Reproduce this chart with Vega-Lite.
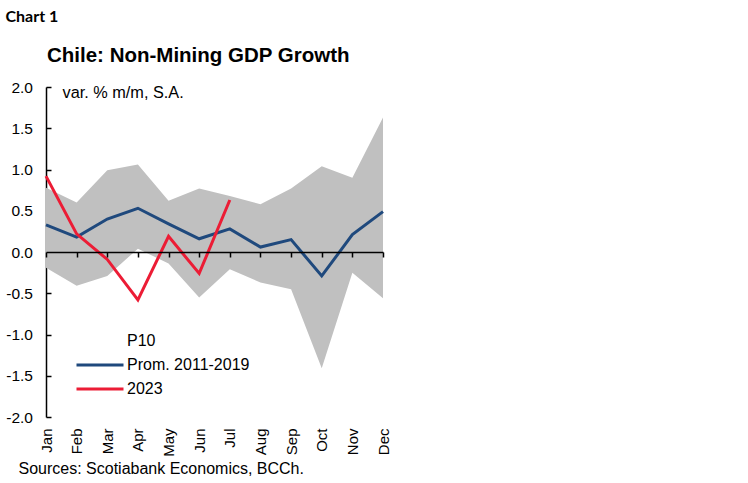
{
  "$schema": "https://vega.github.io/schema/vega-lite/v6.json",
  "width": 337,
  "height": 330,
  "autosize": "none",
  "padding": {"left": 46, "top": 87, "right": 365, "bottom": 66},
  "background": "white",
  "config": {"view": {"stroke": null}, "font": "Liberation Sans"},
  "title": {
    "text": "Chile: Non-Mining GDP Growth",
    "anchor": "start",
    "frame": "group",
    "font": "Liberation Sans",
    "fontSize": 20.5,
    "fontWeight": "bold",
    "color": "#000",
    "offset": -58,
    "dx": 1
  },
  "datasets": {
    "band": [
      {"month": "Jan", "lo": -0.19, "hi": 0.78},
      {"month": "Feb", "lo": -0.41, "hi": 0.60},
      {"month": "Mar", "lo": -0.29, "hi": 0.99},
      {"month": "Apr", "lo": 0.04, "hi": 1.06},
      {"month": "May", "lo": -0.14, "hi": 0.62},
      {"month": "Jun", "lo": -0.55, "hi": 0.77},
      {"month": "Jul", "lo": -0.21, "hi": 0.68},
      {"month": "Aug", "lo": -0.37, "hi": 0.58},
      {"month": "Sep", "lo": -0.45, "hi": 0.77},
      {"month": "Oct", "lo": -1.41, "hi": 1.04},
      {"month": "Nov", "lo": -0.25, "hi": 0.90},
      {"month": "Dec", "lo": -0.56, "hi": 1.63}
    ],
    "lines": [
      {"month": "Jan", "series": "Prom. 2011-2019", "value": 0.33},
      {"month": "Feb", "series": "Prom. 2011-2019", "value": 0.18},
      {"month": "Mar", "series": "Prom. 2011-2019", "value": 0.40},
      {"month": "Apr", "series": "Prom. 2011-2019", "value": 0.53},
      {"month": "May", "series": "Prom. 2011-2019", "value": 0.34},
      {"month": "Jun", "series": "Prom. 2011-2019", "value": 0.16},
      {"month": "Jul", "series": "Prom. 2011-2019", "value": 0.28},
      {"month": "Aug", "series": "Prom. 2011-2019", "value": 0.06},
      {"month": "Sep", "series": "Prom. 2011-2019", "value": 0.15},
      {"month": "Oct", "series": "Prom. 2011-2019", "value": -0.29},
      {"month": "Nov", "series": "Prom. 2011-2019", "value": 0.21},
      {"month": "Dec", "series": "Prom. 2011-2019", "value": 0.49},
      {"month": "Jan", "series": "2023", "value": 0.92},
      {"month": "Feb", "series": "2023", "value": 0.22},
      {"month": "Mar", "series": "2023", "value": -0.09},
      {"month": "Apr", "series": "2023", "value": -0.58},
      {"month": "May", "series": "2023", "value": 0.19},
      {"month": "Jun", "series": "2023", "value": -0.26},
      {"month": "Jul", "series": "2023", "value": 0.63}
    ]
  },
  "layer": [
    {
      "data": {"name": "band"},
      "mark": {"type": "area", "color": "#c0c0c0", "opacity": 1},
      "encoding": {
        "x": {
          "field": "month",
          "type": "ordinal",
          "sort": ["Jan", "Feb", "Mar", "Apr", "May", "Jun", "Jul", "Aug", "Sep", "Oct", "Nov", "Dec"],
          "scale": {"type": "point", "padding": 0},
          "axis": {
            "orient": "bottom",
            "offset": -165,
            "zindex": 1,
            "labels": false,
            "grid": false,
            "domainColor": "#000",
            "domainWidth": 1.5,
            "tickColor": "#000",
            "tickWidth": 1.5,
            "tickSize": 5,
            "title": "Chart 1",
            "titleX": -41,
            "titleY": -231,
            "titleAngle": 0,
            "titleAlign": "left",
            "titleBaseline": "alphabetic",
            "titleFont": "Lato",
            "titleFontSize": 16,
            "titleFontWeight": "bold",
            "titleColor": "#000"
          }
        },
        "y": {
          "field": "lo",
          "type": "quantitative",
          "scale": {"domain": [-2, 2]},
          "axis": {
            "values": [-2, -1.5, -1, -0.5, 0, 0.5, 1, 1.5, 2],
            "labelExpr": "replace(format(datum.value, '.1f'), '\u2212', '-')",
            "grid": false,
            "domainColor": "#000",
            "domainWidth": 1.5,
            "tickColor": "#000",
            "tickSize": -5,
            "tickWidth": 1.5,
            "labelPadding": 18.5,
            "labelFontSize": 15.5,
            "labelColor": "#000",
            "title": "var. % m/m, S.A.",
            "titleX": 16,
            "titleY": 10,
            "titleAngle": 0,
            "titleAlign": "left",
            "titleBaseline": "alphabetic",
            "titleFontSize": 16.3,
            "titleFontWeight": "normal",
            "titleColor": "#000"
          }
        },
        "y2": {"field": "hi"}
      }
    },
    {
      "data": {"name": "lines"},
      "mark": {"type": "line", "strokeWidth": 3},
      "encoding": {
        "x": {
          "field": "month",
          "type": "ordinal",
          "sort": ["Jan", "Feb", "Mar", "Apr", "May", "Jun", "Jul", "Aug", "Sep", "Oct", "Nov", "Dec"],
          "scale": {"type": "point", "padding": 0},
          "axis": {
            "orient": "bottom",
            "domain": false,
            "ticks": false,
            "grid": false,
            "labelAngle": -90,
            "labelAlign": "right",
            "labelBaseline": "middle",
            "labelPadding": 11,
            "labelFontSize": 15,
            "labelColor": "#000",
            "title": "Sources: Scotiabank Economics, BCCh.",
            "titleX": -28,
            "titleY": 56,
            "titleAngle": 0,
            "titleAlign": "left",
            "titleBaseline": "alphabetic",
            "titleFontSize": 16,
            "titleFontWeight": "normal",
            "titleColor": "#000"
          }
        },
        "y": {
          "field": "value",
          "type": "quantitative",
          "scale": {"domain": [-2, 2]},
          "axis": {
            "values": [-2, -1.5, -1, -0.5, 0, 0.5, 1, 1.5, 2],
            "labelExpr": "replace(format(datum.value, '.1f'), '\u2212', '-')",
            "grid": false,
            "domainColor": "#000",
            "domainWidth": 1.5,
            "tickColor": "#000",
            "tickSize": -5,
            "tickWidth": 1.5,
            "labelPadding": 18.5,
            "labelFontSize": 15.5,
            "labelColor": "#000",
            "title": "var. % m/m, S.A.",
            "titleX": 16,
            "titleY": 10,
            "titleAngle": 0,
            "titleAlign": "left",
            "titleBaseline": "alphabetic",
            "titleFontSize": 16.3,
            "titleFontWeight": "normal",
            "titleColor": "#000"
          }
        },
        "color": {
          "field": "series",
          "type": "nominal",
          "scale": {
            "domain": ["P10", "Prom. 2011-2019", "2023"],
            "range": ["transparent", "#1f497d", "#ec1c35"]
          },
          "legend": {
            "orient": "none",
            "legendX": 29,
            "legendY": 245,
            "title": null,
            "padding": 0,
            "symbolType": "stroke",
            "symbolSize": 2209,
            "symbolStrokeWidth": 3,
            "clipHeight": 18,
            "labelFontSize": 16,
            "labelColor": "#000",
            "labelOffset": 2,
            "rowPadding": 6
          }
        }
      }
    }
  ],
  "resolve": {"axis": {"x": "independent"}}
}
